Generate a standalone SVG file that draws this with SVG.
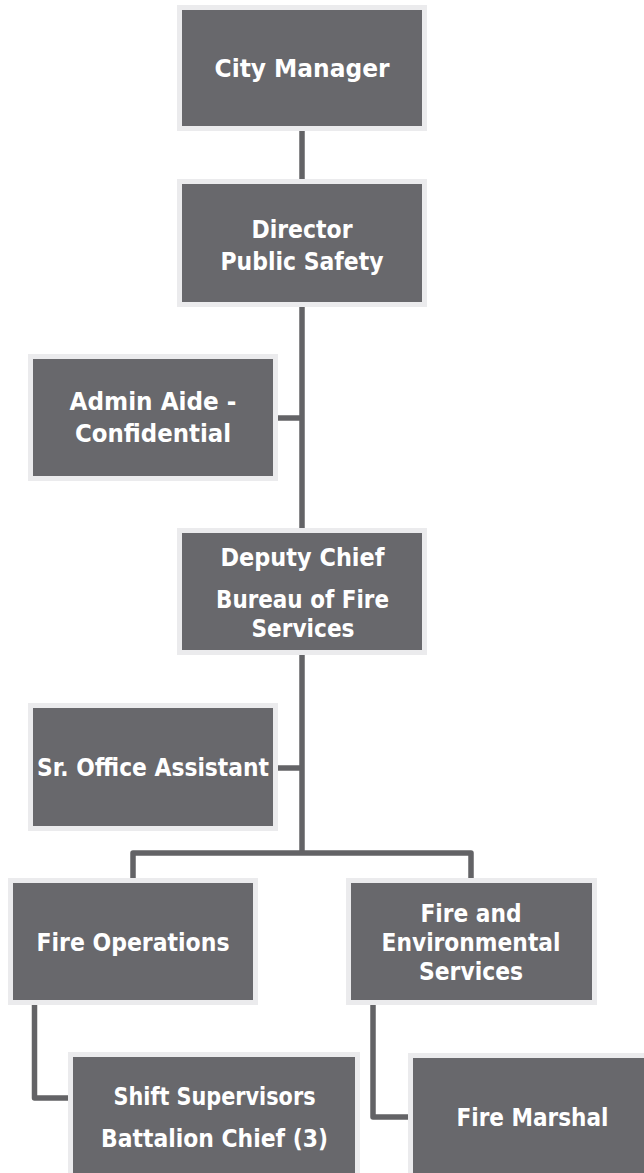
<svg xmlns="http://www.w3.org/2000/svg" width="644" height="1173" viewBox="0 0 644 1173">
  <style>
    .box { fill: #68686c; stroke: #ebebed; stroke-width: 5; }
    .lbl { fill: #ffffff; font-family: "DejaVu Sans", "Liberation Sans", sans-serif; font-weight: bold; font-size: 24px; text-anchor: middle; }
    .conn { fill: none; stroke: #636366; stroke-width: 5.5; stroke-linejoin: round; }
  </style>
  <rect width="644" height="1173" fill="#ffffff"/>
  <g id="connectors">
    <path class="conn" d="M302 131 V179"/>
    <path class="conn" d="M302 307 V528"/>
    <path class="conn" d="M278 418 H302"/>
    <path class="conn" d="M302 655 V853"/>
    <path class="conn" d="M278 768 H302"/>
    <path class="conn" d="M133 878 V853 H471 V878"/>
    <path class="conn" d="M34.5 1005 V1098 H68"/>
    <path class="conn" d="M373 1005 V1117 H408"/>
  </g>
  <g id="city-manager">
    <rect class="box" x="179.5" y="7.5" width="245" height="121"/>
    <text class="lbl" x="302" y="77" textLength="175" lengthAdjust="spacingAndGlyphs">City Manager</text>
  </g>
  <g id="director">
    <rect class="box" x="179.5" y="181.5" width="245" height="123"/>
    <text class="lbl" x="302" y="238" textLength="101" lengthAdjust="spacingAndGlyphs">Director</text>
    <text class="lbl" x="302" y="270" textLength="163" lengthAdjust="spacingAndGlyphs">Public Safety</text>
  </g>
  <g id="admin-aide">
    <rect class="box" x="30.5" y="356.5" width="245" height="122"/>
    <text class="lbl" x="153" y="410" textLength="167" lengthAdjust="spacingAndGlyphs">Admin Aide -</text>
    <text class="lbl" x="153" y="442" textLength="156" lengthAdjust="spacingAndGlyphs">Confidential</text>
  </g>
  <g id="deputy-chief">
    <rect class="box" x="179.5" y="530.5" width="245" height="122"/>
    <text class="lbl" x="302.5" y="566" textLength="164" lengthAdjust="spacingAndGlyphs">Deputy Chief</text>
    <text class="lbl" x="302.5" y="608" textLength="173" lengthAdjust="spacingAndGlyphs">Bureau of Fire</text>
    <text class="lbl" x="303" y="637" textLength="103" lengthAdjust="spacingAndGlyphs">Services</text>
  </g>
  <g id="sr-office-assistant">
    <rect class="box" x="30.5" y="705.5" width="245" height="123"/>
    <text class="lbl" x="153" y="776" textLength="232" lengthAdjust="spacingAndGlyphs">Sr. Office Assistant</text>
  </g>
  <g id="fire-operations">
    <rect class="box" x="10.5" y="880.5" width="245" height="122"/>
    <text class="lbl" x="133" y="951" textLength="193" lengthAdjust="spacingAndGlyphs">Fire Operations</text>
  </g>
  <g id="fire-environmental">
    <rect class="box" x="348.5" y="880.5" width="246" height="122"/>
    <text class="lbl" x="471" y="922" textLength="101" lengthAdjust="spacingAndGlyphs">Fire and</text>
    <text class="lbl" x="471" y="951" textLength="179" lengthAdjust="spacingAndGlyphs">Environmental</text>
    <text class="lbl" x="471" y="980" textLength="104" lengthAdjust="spacingAndGlyphs">Services</text>
  </g>
  <g id="shift-supervisors">
    <rect class="box" x="70.5" y="1054.5" width="287" height="140"/>
    <text class="lbl" x="214.5" y="1105" textLength="202" lengthAdjust="spacingAndGlyphs">Shift Supervisors</text>
    <text class="lbl" x="214.5" y="1147" textLength="227" lengthAdjust="spacingAndGlyphs">Battalion Chief (3)</text>
  </g>
  <g id="fire-marshal">
    <rect class="box" x="410.5" y="1055.5" width="250" height="140"/>
    <text class="lbl" x="532.5" y="1126" textLength="152" lengthAdjust="spacingAndGlyphs">Fire Marshal</text>
  </g>
</svg>
